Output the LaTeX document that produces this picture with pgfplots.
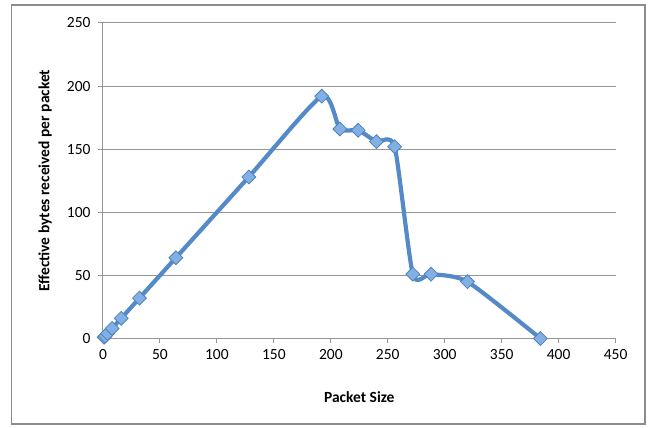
\documentclass[border=0pt]{standalone}
\usepackage{fontspec}
\setmainfont{Carlito}
\usepackage{pgfplots}
\pgfplotsset{compat=1.18}
\definecolor{lineblue}{RGB}{84,138,200}
\definecolor{markfill}{RGB}{130,175,228}
\definecolor{markedge}{RGB}{79,129,189}
\definecolor{gridgray}{RGB}{150,150,150}
\definecolor{framegray}{RGB}{140,140,140}
\begin{document}
\begin{tikzpicture}
\useasboundingbox (-103pt,-89.5pt) rectangle (546pt,338.5pt);
\draw[framegray,line width=1.4pt] (-91.5pt,-85.5pt) rectangle (542pt,333.5pt);
\begin{axis}[
  at={(0pt,0pt)}, anchor=origin,
  scale only axis, width=512.6pt, height=315.5pt,
  xmin=0, xmax=450, ymin=0, ymax=250,
  xtick={0,50,...,450}, ytick={0,50,...,250},
  axis x line*=bottom, axis y line*=left,
  axis line style={gridgray, line width=1pt, -},
  ymajorgrids, grid style={gridgray, line width=1pt},
  tick style={gridgray, line width=1pt},
  tick align=outside, major tick length=5pt,
  /pgf/number format/assume math mode=true,
  ticklabel style={font=\fontsize{15.5}{18}\selectfont, black},
  xticklabel style={yshift=-2pt},
  yticklabel style={xshift=-4pt},
  xlabel={\textbf{Packet Size}},
  ylabel={\textbf{Effective bytes received per packet}},
  label style={font=\fontsize{15.5}{18}\selectfont},
  xlabel style={at={(axis description cs:0.5,-0.185)}, anchor=center},
  ylabel style={at={(axis description cs:-0.113,0.5)}, anchor=center},
  clip=false,
]
\addplot[lineblue, line width=4.2pt, smooth, tension=0.38,
  mark=square*, mark size=4.9pt,
  mark options={rotate=45, fill=markfill, draw=markedge, line width=0.8pt, solid}]
  coordinates {
  (1,1) (2,2) (4,4) (8,8) (16,16) (32,32) (64,64) (128,128) (192,192)
  (208,166) (224,165) (240,156) (256,152) (272,51) (288,51) (320,45) (384,0)
  };
\end{axis}
\end{tikzpicture}
\end{document}
